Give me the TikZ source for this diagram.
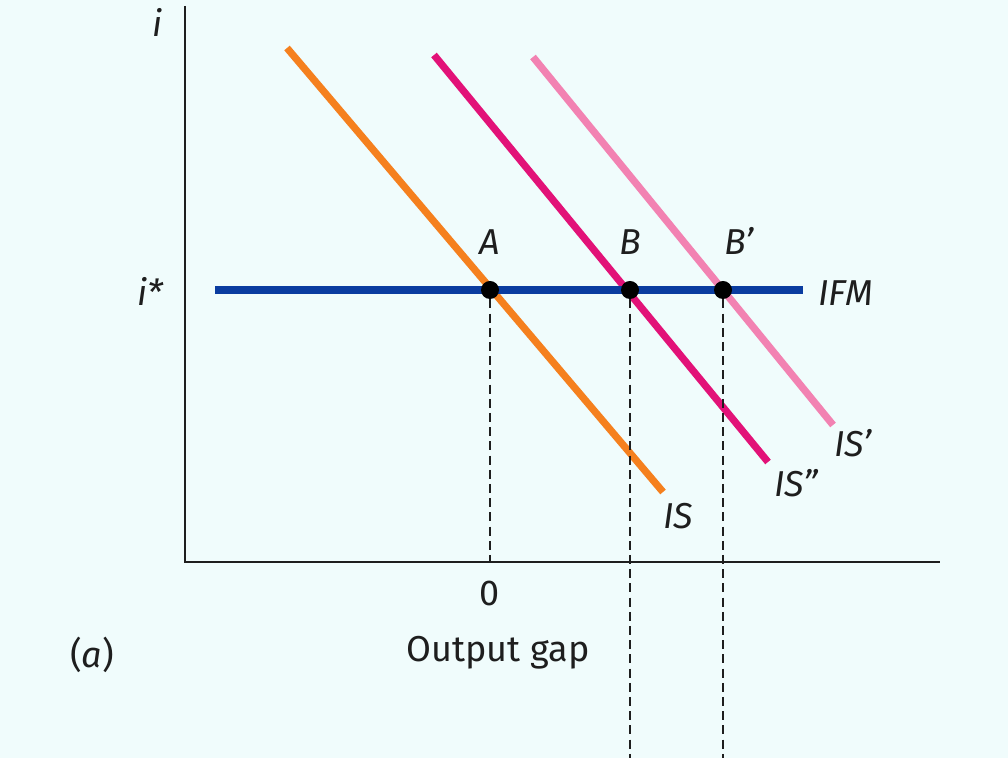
\documentclass[tikz,border=0pt]{standalone}
\usepackage{fontspec}
\setmainfont{Fira Sans}
\usetikzlibrary{positioning}
\definecolor{bg}{RGB}{240,252,252}
\definecolor{ink}{RGB}{30,30,30}
\definecolor{ifm}{RGB}{10,60,160}
\definecolor{iso}{RGB}{245,128,30}
\definecolor{ismag}{RGB}{226,18,120}
\definecolor{ispink}{RGB}{242,130,178}

\begin{document}
\begin{tikzpicture}[
  x=0.5pt, y=-0.5pt,
  font=\fontsize{18}{20}\selectfont, ink,
  every node/.style={inner sep=0pt},
  axis/.style={line width=1pt, ink},
  curve/.style={line width=3.6pt},
  guide/.style={line width=1pt, ink, dash pattern=on 4.5pt off 2.6pt},
  dot/.style={circle, fill=black, minimum size=9pt},
  lbl/.style={font=\fontsize{18}{20}\selectfont\itshape},
]
\useasboundingbox (0,0) rectangle (1008,758);
\fill[bg] (0,0) rectangle (1008,758);

%% ---- Axes ----
\coordinate (top) at (185,6);
\coordinate (orig) at (185,562);
\coordinate (right) at (940,562);
\draw[axis] (top) -- (orig) -- (right);
\node[lbl] (ilab) at (158,22) {i};
\node[lbl] (istar) at (150,291) {i*};

%% ---- IS curves ----
\coordinate (is0a) at (287,48);
\coordinate (is0b) at (663,492);
\coordinate (is2a) at (434,55);
\coordinate (is2b) at (768,462);
\coordinate (is1a) at (533,57);
\coordinate (is1b) at (833,425);
\draw[curve, ispink] (is1a) -- (is1b);
\draw[curve, ismag] (is2a) -- (is2b);
\draw[curve, iso] (is0a) -- (is0b);
\node[lbl] (islab) at (678,516) {IS};
\node[lbl] (is2lab) at (796,483) {IS”};
\node[lbl] (is1lab) at (853,443) {IS’};

%% ---- IFM line ----
\coordinate (ifmL) at (215,290);
\coordinate (ifmR) at (803,290);
\draw[curve, ifm] (ifmL) -- (ifmR);
\node[lbl] (ifmlab) at (846,293) {IFM};

%% ---- Equilibria ----
\node[dot] (A) at (490,290) {};
\node[dot] (B) at (630,290) {};
\node[dot] (Bp) at (723,290) {};
\node[lbl, above=13pt of A] (Alab) {A};
\node[lbl, above=13pt of B] (Blab) {B};
\node[lbl, above=13pt of Bp, xshift=8pt] (Bplab) {B’};

%% dashed guides
\coordinate (Ax) at (490,562);
\coordinate (Bx) at (630,758);
\coordinate (Bpx) at (723,758);
\draw[guide] (A) -- (Ax);
\draw[guide] (B) -- (Bx);
\draw[guide] (Bp) -- (Bpx);

%% ---- Axis texts ----
\node (zero) at (490,593) {0};
\node (gap) at (498,653) {Output gap};
\node (panel) at (92,655) {(\textit{a})};

\end{tikzpicture}
\end{document}
